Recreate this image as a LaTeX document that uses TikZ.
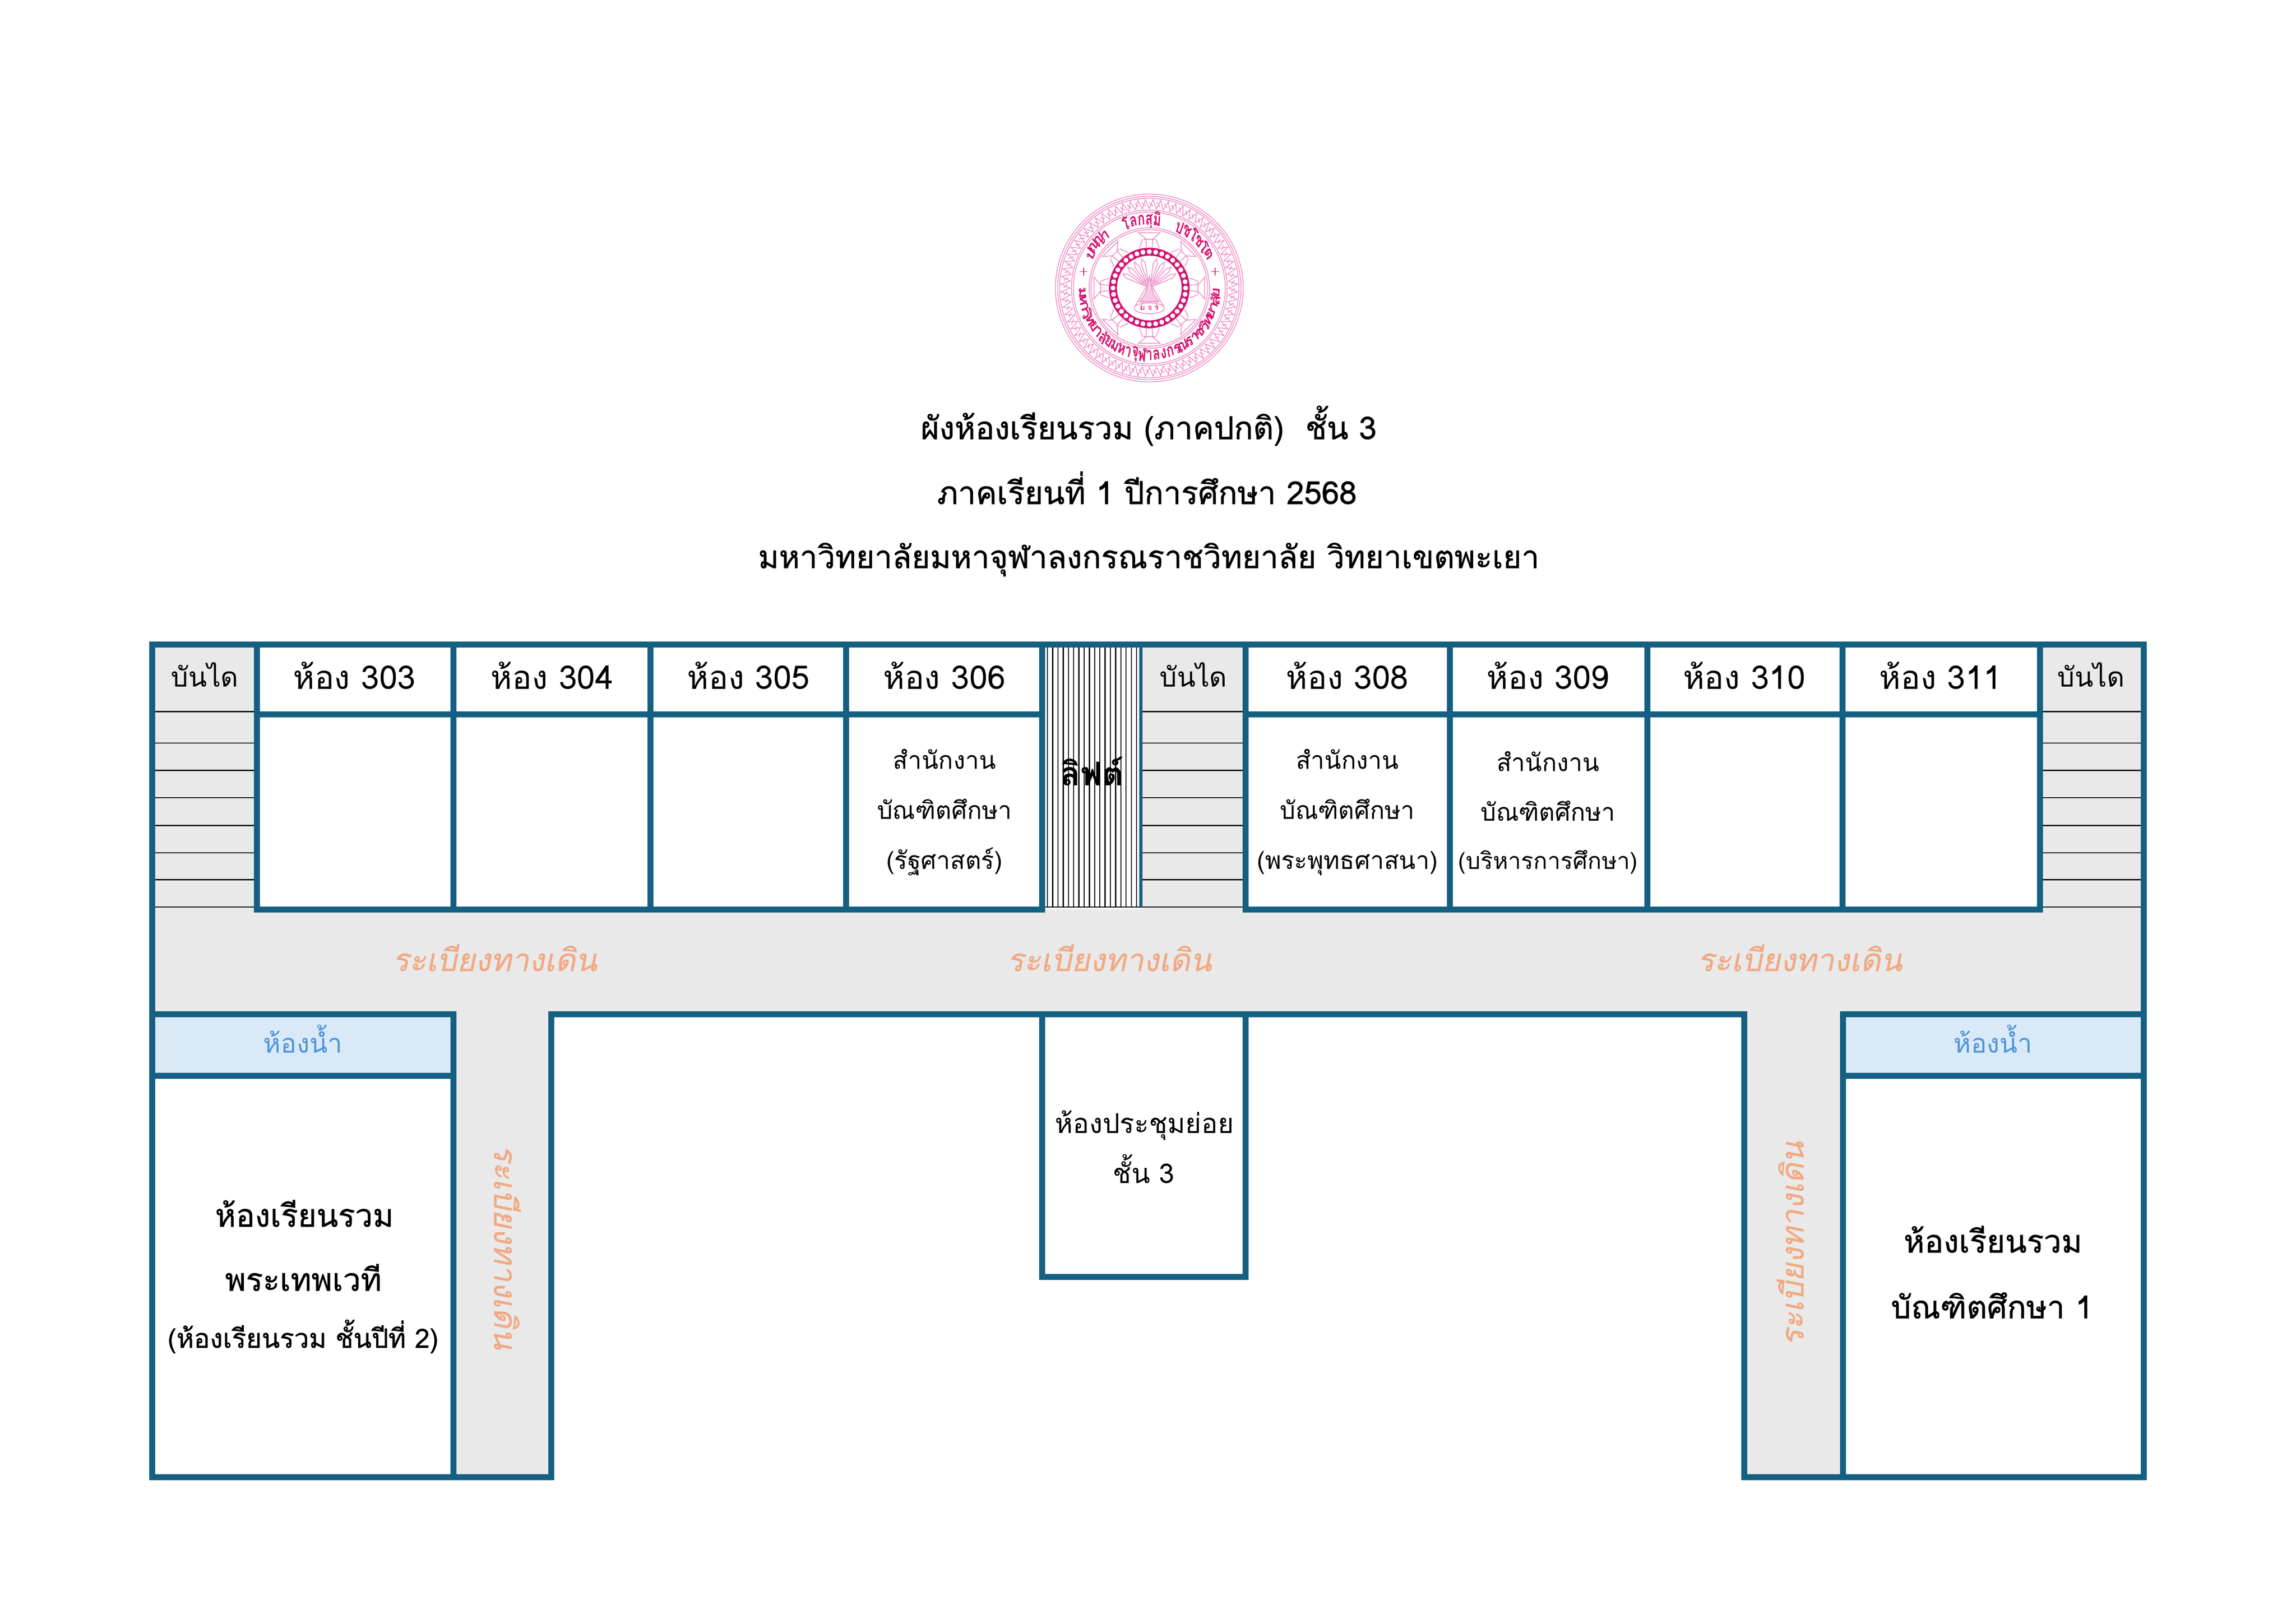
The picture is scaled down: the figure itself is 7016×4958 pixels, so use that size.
\documentclass[tikz,border=0pt]{standalone}
\usepackage{fontspec}
\setmainfont[Script=Thai]{Loma}
\newfontfamily\medfont[Script=Thai,FakeBold=0.9]{Loma}
\newfontfamily\slantfont[Script=Thai,FakeSlant=0.2,FakeBold=0.5]{Loma}
\usepackage{xcolor}
\usetikzlibrary{calc}
\definecolor{wallblue}{HTML}{156082}
\definecolor{hallgray}{HTML}{E9E9E9}
\definecolor{bathblue}{HTML}{DAE9F8}
\definecolor{bathtext}{HTML}{4E95D9}
\definecolor{halltext}{HTML}{F1A983}
\definecolor{sealpink}{HTML}{EC8CC6}
\definecolor{sealred}{HTML}{D5116F}
\tikzstyle{wall} = [draw=wallblue,line width=2.2pt,line cap=rect]
\tikzstyle{thinwall} = [draw=wallblue,line width=1.1pt]
\tikzstyle{stepline} = [draw=black,line width=.4pt]
\tikzstyle{hall} = [fill=hallgray]
\tikzstyle{bath} = [fill=bathblue]
\tikzstyle{txt} = [anchor=base,inner sep=0pt]
\tikzstyle{header} = [txt,font=\fontsize{12}{12}\selectfont]
\tikzstyle{stairlabel} = [txt,font=\fontsize{10}{10}\selectfont]
\tikzstyle{office} = [txt,font=\fontsize{9}{10}\selectfont]
\tikzstyle{title} = [txt,font=\fontsize{11.6}{12}\selectfont\medfont]
\tikzstyle{bigroom} = [txt,font=\fontsize{11.6}{12}\selectfont\medfont]
\tikzstyle{walktext} = [txt,text=halltext,font=\fontsize{11.55}{13}\selectfont\slantfont]
\tikzstyle{bathlabel} = [txt,text=bathtext,font=\fontsize{9.7}{10}\selectfont]
\tikzstyle{sealline} = [draw=sealpink,line width=.28pt]
\tikzstyle{sealtext} = [text=sealred,inner sep=0pt,xscale=.68,font=\fontsize{6.6}{6.6}\selectfont\bfseries]
\begin{document}
\begin{tikzpicture}[x=0.0042333cm,y=-0.0042333cm]
 \path[use as bounding box] (0,0) rectangle (7016,4958);

 %floor
 \foreach \xa/\ya/\xb/\yb in {465/1969/785/2779, 3486/1969/3806/2779, 6234/1969/6551/2779, 465/2779/6551/3099, 1385/3099/1685/4513, 5330/3099/5631/4513}
        \fill[hall] (\xa,\ya) rectangle (\xb,\yb);
 \foreach \xa/\xb in {465/1385, 5631/6551}
        \fill[bath] (\xa,3099) rectangle (\xb,3287);

 %stairs
 \foreach \xa/\xb in {474/776, 3491/3797, 6243/6542}
   \foreach \y in {2174,2270,2354,2437,2522,2606,2688,2771}
        \draw[stepline] (\xa,\y) -- (\xb,\y);

 %lift
 \foreach \x in {3201,3217,...,3473}
        \draw[stepline] (\x,1978) -- (\x,2771);
 \draw[stepline] (3194,2771) -- (3491,2771);
 \draw[thinwall] (3486,1978) -- (3486,2771);

 %walls
 \foreach \xa/\ya/\xb/\yb in {465/1969/6551/1969, 465/1969/465/4513, 6551/1969/6551/4513,
        785/2183/3185/2183, 785/2779/3185/2779, 3806/2183/6234/2183, 3806/2779/6234/2779,
        785/1969/785/2779, 1385/1969/1385/2779, 1987/1969/1987/2779, 2585/1969/2585/2779, 3185/1969/3185/2779,
        3806/1969/3806/2779, 4430/1969/4430/2779, 5034/1969/5034/2779, 5630/1969/5630/2779, 6234/1969/6234/2779,
        465/3099/1385/3099, 1685/3099/5330/3099, 5631/3099/6551/3099,
        465/3287/1385/3287, 5631/3287/6551/3287,
        1385/3099/1385/4513, 1685/3099/1685/4513, 5330/3099/5330/4513, 5631/3099/5631/4513,
        465/4513/1685/4513, 5330/4513/6551/4513,
        3185/3099/3185/3902, 3806/3099/3806/3902, 3185/3902/3806/3902}
        \draw[wall] (\xa,\ya) -- (\xb,\yb);

 %titles
 \foreach \x/\y/\name/\label in {3510/1342/titleA/{ผังห้องเรียนรวม (ภาคปกติ)\ \ ชั้น 3}, 3505/1540/titleB/{ภาคเรียนที่ 1 ปีการศึกษา 2568}, 3510/1736/titleC/{มหาวิทยาลัยมหาจุฬาลงกรณราชวิทยาลัย วิทยาเขตพะเยา}}
        \node[title] (\name) at (\x,\y) {\label};

 %headers
 \foreach \x/\name/\label in {1083/rA/ห้อง 303, 1687/rB/ห้อง 304, 2287/rC/ห้อง 305, 2886/rD/ห้อง 306, 4117/rE/ห้อง 308, 4730/rF/ห้อง 309, 5330/rG/ห้อง 310, 5930/rH/ห้อง 311}
        \node[header] (\name) at (\x,2105) {\label};
 \foreach \x/\name in {626/stairA, 3647/stairB, 6390/stairC}
        \node[stairlabel] (\name) at (\x,2099) {บันได};

 %offices
 \foreach \x/\y/\name/\label in {2886/2350/oA1/สำนักงาน, 2886/2503/oA2/บัณฑิตศึกษา, 2886/2655/oA3/(รัฐศาสตร์),
        4117/2349/oB1/สำนักงาน, 4117/2503/oB2/บัณฑิตศึกษา, 4117/2655/oB3/(พระพุทธศาสนา),
        4730/2356/oC1/สำนักงาน, 4730/2508/oC2/บัณฑิตศึกษา}
        \node[office] (\name) at (\x,\y) {\label};
 \node[office,font=\fontsize{8.5}{10}\selectfont] (oC3) at (4730,2655) {(บริหารการศึกษา)};
 \node[txt,font=\fontsize{12}{12}\selectfont\bfseries] (lift) at (3337,2400) {ลิฟต์};

 %walkways
 \foreach \x/\name in {1512/hallA, 3390/hallB, 5500/hallC}
        \node[walktext] (\name) at (\x,2967) {ระเบียงทางเดิน};
 \node[walktext,rotate=-90] (hallD) at (1510,3811) {ระเบียงทางเดิน};
 \node[walktext,rotate=90] (hallE) at (5511,3800) {ระเบียงทางเดิน};

 %lower rooms
 \foreach \x/\name in {926/bathA, 6090/bathB}
        \node[bathlabel] (\name) at (\x,3217) {ห้องน้ำ};
 \foreach \x/\y/\name/\label in {930/3748/bigA1/ห้องเรียนรวม, 927/3944/bigA2/พระเทพเวที, 6090/3827/bigB1/ห้องเรียนรวม, 6087/4028/bigB2/บัณฑิตศึกษา 1}
        \node[bigroom] (\name) at (\x,\y) {\label};
 \node[bigroom,font=\fontsize{9.75}{10}\selectfont\medfont] (bigA3) at (926,4118) {(ห้องเรียนรวม ชั้นปีที่ 2)};
 \node[office,font=\fontsize{10}{10}\selectfont] (meetA) at (3497,3463) {ห้องประชุมย่อย};
 \node[office,font=\fontsize{10}{10}\selectfont] (meetB) at (3495,3615) {ชั้น 3};

 %seal
 \begin{scope}[shift={(3512,880)},yscale=-1]
  \foreach \r in {287,280,274,238,232,184,178}
        \draw[sealline] (0,0) circle (\r);
  \foreach \a in {0,5,...,355}{
        \draw[sealline] (\a:242) -- (\a+2.5:270) -- (\a+5:242);
        \draw[sealline] (\a+2.5:250) -- (\a+5:262);
  }
  %wheel
  \foreach \a in {0,45,...,315}{
        \draw[sealline] (\a-4:124) -- (\a-4:150) -- (\a-11:172) -- (\a+11:172) -- (\a+4:150) -- (\a+4:124);
        \draw[sealline] (\a-7:150) -- (\a+7:150);
        \draw[sealline] (\a+14:126) -- (\a+8:150);
        \draw[sealline] (\a+31:126) -- (\a+37:150);
  }
  \draw[draw=sealred,line width=2.9pt] (0,0) circle (111);
  \foreach \a in {0,10,...,350}
        \fill[white] (\a:111) circle (7.5);
  %stupa
  \foreach \a in {28,44,60,76,104,120,136,152}
        \draw[sealline] (\a:14) -- ($(\a:14)+(\a+6:62)$) -- (\a:92) -- ($(\a:14)+(\a-6:62)$) -- cycle;
  \foreach \a in {-60,-72,-108,-120}
        \draw[sealline] (0,20) -- ($(0,20)+(\a:88)$);
  \draw[sealline] (-46,-62) .. controls (-46,-40) and (46,-40) .. (46,-62) .. controls (46,-84) and (-46,-84) .. (-46,-62);
  \draw[sealline,fill=sealpink!45] (0,36) -- (-8,-2) -- (-14,-20) -- (-30,-42) -- (30,-42) -- (14,-20) -- (8,-2) -- cycle;
  \node[text=sealred,inner sep=0pt,font=\fontsize{2.8}{3}\selectfont] (sealmark) at (0,-62) {ม\ จ\ ร};
  %stars
  \foreach \a in {14,166}{
        \draw[draw=sealred,line width=.3pt] ($(\a:207)+(-12,0)$) -- ($(\a:207)+(12,0)$);
        \draw[draw=sealred,line width=.3pt] ($(\a:207)+(0,-12)$) -- ($(\a:207)+(0,12)$);
  }
  %motto
  \foreach \c [count=\i from 0] in {ป,ญฺ,ญ,า,{},{},โ,ล,ก,ส,ฺมิ,{},{},ป,ช,ฺโ,ช,โ,ต}
        \node[sealtext,rotate=150-6.67*\i-90] (mottoA\i) at (150-6.67*\i:209) {\c};
  \foreach \c [count=\i from 0] in {ม,ห,า,วิ,ท,ย,า,ลั,ย,ม,ห,า,จุ,ฬ,า,ล,ง,ก,ร,ณ,ร,า,ช,วิ,ท,ย,า,ลั,ย}
        \node[sealtext,rotate=184+6.14*\i+90] (mottoB\i) at (184+6.14*\i:205) {\c};
 \end{scope}
\end{tikzpicture}
\end{document}
